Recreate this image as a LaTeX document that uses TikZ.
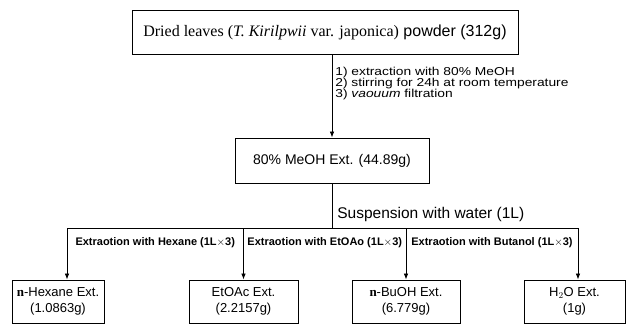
\documentclass[tikz,border=0pt]{standalone}
\usepackage{fontspec}
\setmainfont{Liberation Sans}
\newfontfamily\timesfont{Liberation Serif}
\newfontfamily\stepfont{Liberation Sans}[FakeStretch=1.2]
\usetikzlibrary{arrows.meta}

\begin{document}
\begin{tikzpicture}[x=1pt, y=-1pt, >={Latex[length=6pt,width=4.5pt]},
    box/.style={draw, line width=0.9pt, inner sep=0pt, align=center},
    link/.style={line width=0.7pt},
    extlabel/.style={font=\fontsize{11}{13}\selectfont\bfseries, inner sep=0pt}]
    \useasboundingbox (0,0) rectangle (630,325);
    \node[box, minimum width=386pt, minimum height=44pt, font=\fontsize{16}{18}\selectfont] (dried) at (325,32)
        {{\timesfont Dried leaves (\textit{T. Kirilpwii} var. japonica)} powder (312g)};
    \node[box, minimum width=194pt, minimum height=45pt, font=\fontsize{14}{16}\selectfont] (meoh) at (332,160.5)
        {80\% MeOH Ext. (44.89g)};
    \draw[link, ->] (dried.south -| meoh.north) -- (meoh.north)
        node[midway, right, xshift=3pt, yshift=12pt, align=left, inner sep=0pt,
             font=\stepfont\fontsize{11.5}{11}\selectfont]
        {1) extraction with 80\% MeOH\\2) stirring for 24h at room temperature\\3) \textit{vaouum} filtration};
    \tikzset{every node/.append style={font=\fontsize{13}{16.5}\selectfont}}
    \node[box, minimum width=92pt, minimum height=43pt] (hexane) at (58,301.5) {{\timesfont\bfseries n}-Hexane Ext.\\(1.0863g)};
    \node[box, minimum width=109pt, minimum height=43pt] (etoac) at (243.5,301.5) {EtOAc Ext.\\(2.2157g)};
    \node[box, minimum width=108pt, minimum height=43pt] (buoh) at (406,301.5) {{\timesfont\bfseries n}-BuOH Ext.\\(6.779g)};
    \node[box, minimum width=101pt, minimum height=43pt] (water) at (574.5,301.5) {H$_2$O Ext.\\(1g)};
    \coordinate (split) at (332,228);
    \coordinate (hleft) at (67,228);
    \coordinate (hright) at (578,228);
    \draw[link] (meoh.south) -- (split)
        node[midway, right, xshift=5pt, yshift=-8.5pt, inner sep=0pt, font=\fontsize{15.5}{18}\selectfont]
        {Suspension with water (1L)};
    \draw[link] (hleft) -- (hright);
    \draw[link, ->] (hleft) -- (hleft |- hexane.north);
    \draw[link, ->] (etoac.north |- split) -- (etoac.north);
    \draw[link, ->] (buoh.north |- split) -- (buoh.north);
    \draw[link, ->] (hright) -- (hright |- water.north);
    \path (hleft) -- (etoac.north |- split)
        node[midway, yshift=-15pt, extlabel] {Extraotion with Hexane (1L$\times$3)};
    \path (etoac.north |- split) -- (buoh.north |- split)
        node[midway, yshift=-15pt, extlabel] {Extraotion with EtOAo (1L$\times$3)};
    \path (buoh.north |- split) -- (hright)
        node[midway, yshift=-15pt, extlabel] {Extraotion with Butanol (1L$\times$3)};
\end{tikzpicture}
\end{document}
